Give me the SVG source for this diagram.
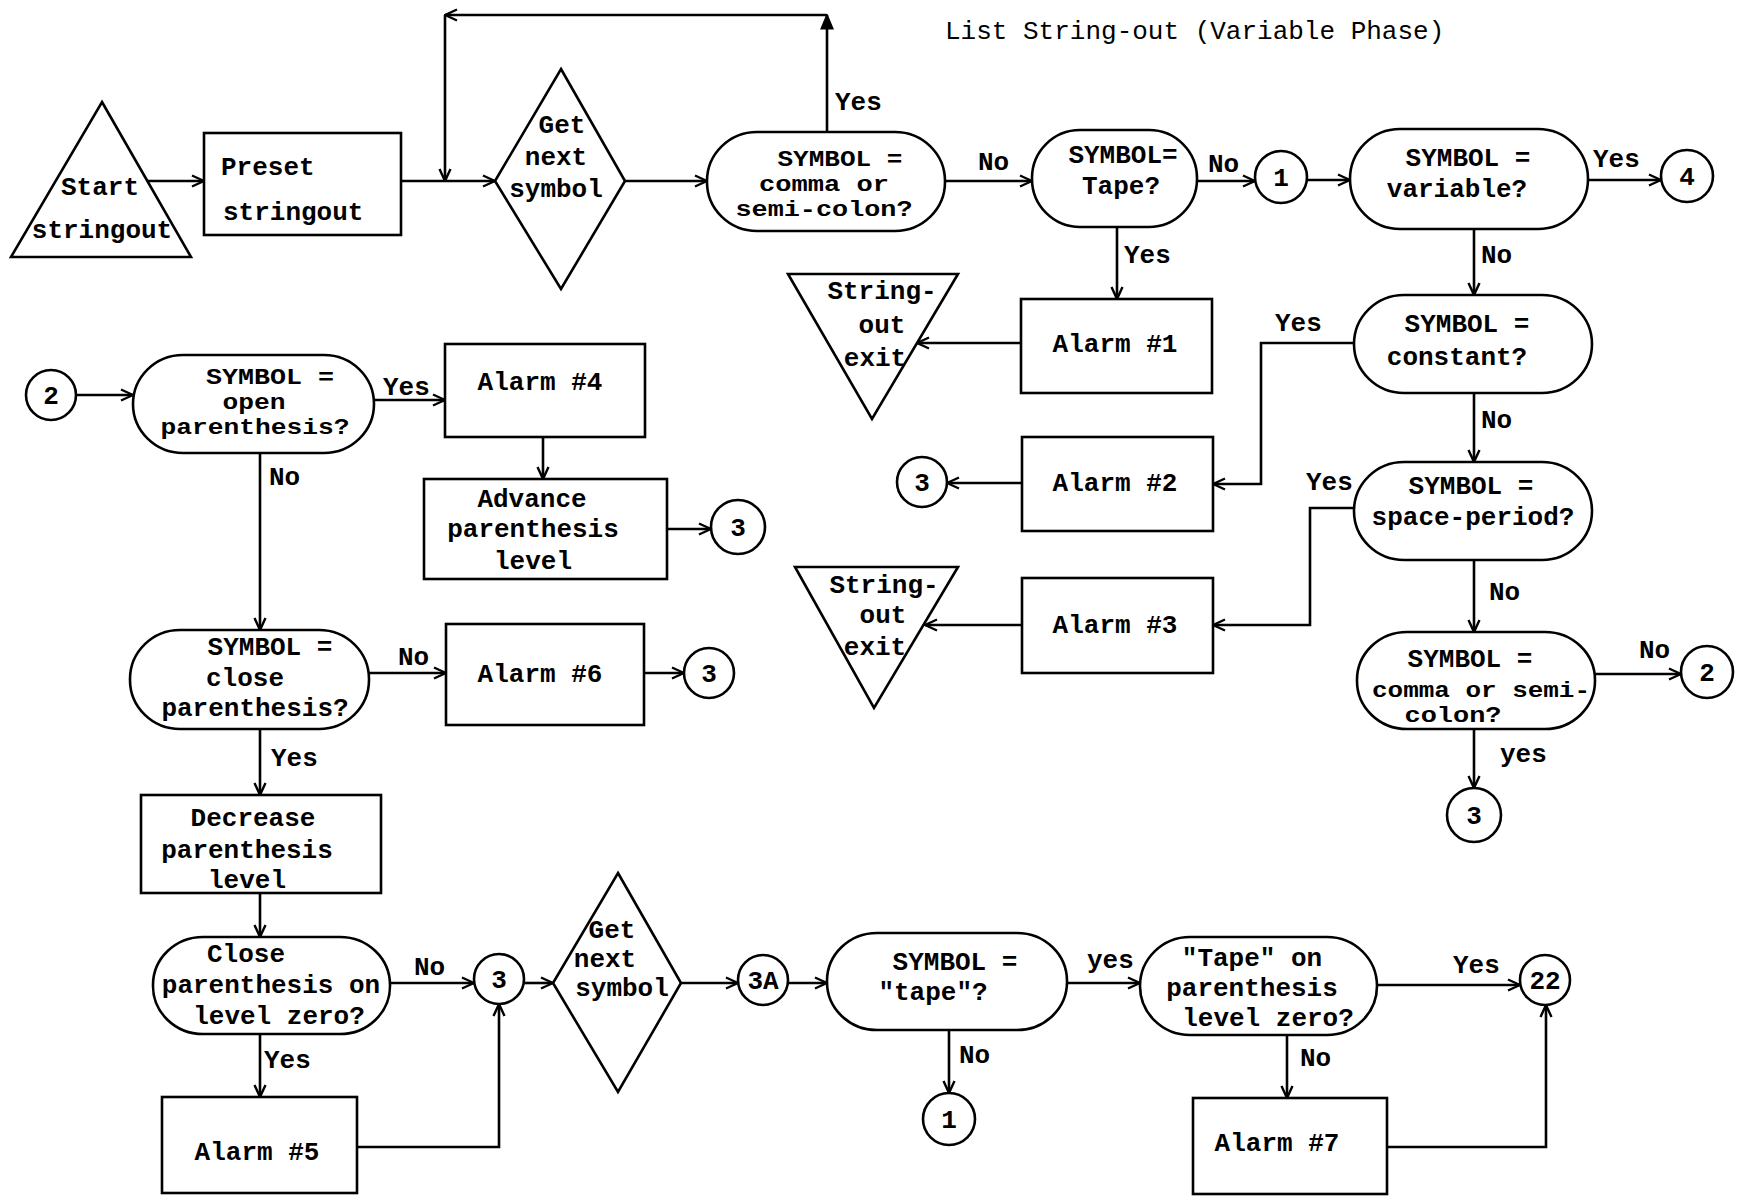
<svg xmlns="http://www.w3.org/2000/svg" width="1745" height="1196" viewBox="0 0 1745 1196">
<style>
  .bg{fill:#fff}
  .s{fill:#fff;stroke:#000;stroke-width:2.6}
  .c{fill:none;stroke:#000;stroke-width:2.6}
  text{font-family:"Liberation Mono","DejaVu Sans Mono",monospace;font-size:26px;font-weight:bold;fill:#000}
  .m{text-anchor:middle}
  .t{font-weight:normal}
  .sm{font-size:22px}
</style>
<defs>
  <marker id="a" viewBox="0 0 14 14" refX="13" refY="7" markerWidth="14" markerHeight="14" orient="auto" markerUnits="userSpaceOnUse">
    <path d="M1,1.5 L13,7 L1,12.5" fill="none" stroke="#000" stroke-width="2.4"/>
  </marker>
  <marker id="f" viewBox="0 0 14 14" refX="13" refY="7" markerWidth="16" markerHeight="16" orient="auto" markerUnits="userSpaceOnUse">
    <path d="M1,2 L13,7 L1,12 Z" fill="#000" stroke="#000" stroke-width="1.5"/>
  </marker>
</defs>
<rect class="bg" width="1745" height="1196"/>
<text class="t" x="945" y="39">List String-out (Variable Phase)</text>

<g id="connectors" class="c">
  <line x1="147" y1="181" x2="204" y2="181" marker-end="url(#a)"/>
  <line x1="401" y1="181" x2="495" y2="181" marker-end="url(#a)"/>
  <line x1="827" y1="132" x2="827" y2="15" marker-end="url(#f)"/>
  <line x1="827" y1="15" x2="445" y2="15" marker-end="url(#a)"/>
  <line x1="445" y1="15" x2="445" y2="181" marker-end="url(#a)"/>
  <line x1="625" y1="181" x2="707" y2="181" marker-end="url(#a)"/>
  <line x1="945" y1="181" x2="1032" y2="181" marker-end="url(#a)"/>
  <line x1="1197" y1="181" x2="1255" y2="181" marker-end="url(#a)"/>
  <line x1="1307" y1="180" x2="1350" y2="180" marker-end="url(#a)"/>
  <line x1="1588" y1="180" x2="1661" y2="180" marker-end="url(#a)"/>
  <line x1="1117" y1="227" x2="1117" y2="299" marker-end="url(#a)"/>
  <line x1="1474" y1="229" x2="1474" y2="295" marker-end="url(#a)"/>
  <line x1="1021" y1="343" x2="917" y2="343" marker-end="url(#a)"/>
  <polyline points="1354,343 1261,343 1261,484 1213,484" marker-end="url(#a)"/>
  <line x1="1022" y1="483" x2="947" y2="483" marker-end="url(#a)"/>
  <line x1="1474" y1="393" x2="1474" y2="462" marker-end="url(#a)"/>
  <polyline points="1354,508 1310,508 1310,625 1213,625" marker-end="url(#a)"/>
  <line x1="1022" y1="625" x2="925" y2="625" marker-end="url(#a)"/>
  <line x1="1474" y1="560" x2="1474" y2="632" marker-end="url(#a)"/>
  <line x1="1595" y1="674" x2="1681" y2="674" marker-end="url(#a)"/>
  <line x1="1474" y1="729" x2="1474" y2="788" marker-end="url(#a)"/>
  <line x1="77" y1="395" x2="133" y2="395" marker-end="url(#a)"/>
  <line x1="374" y1="400" x2="445" y2="400" marker-end="url(#a)"/>
  <line x1="543" y1="437" x2="543" y2="479" marker-end="url(#a)"/>
  <line x1="667" y1="529" x2="711" y2="529" marker-end="url(#a)"/>
  <line x1="260" y1="453" x2="260" y2="630" marker-end="url(#a)"/>
  <line x1="369" y1="673" x2="446" y2="673" marker-end="url(#a)"/>
  <line x1="642" y1="673" x2="684" y2="673" marker-end="url(#a)"/>
  <line x1="260" y1="729" x2="260" y2="795" marker-end="url(#a)"/>
  <line x1="260" y1="893" x2="260" y2="937" marker-end="url(#a)"/>
  <line x1="390" y1="983" x2="474" y2="983" marker-end="url(#a)"/>
  <line x1="524" y1="983" x2="553" y2="983" marker-end="url(#a)"/>
  <line x1="681" y1="983" x2="738" y2="983" marker-end="url(#a)"/>
  <line x1="788" y1="983" x2="827" y2="983" marker-end="url(#a)"/>
  <line x1="260" y1="1034" x2="260" y2="1097" marker-end="url(#a)"/>
  <polyline points="357,1147 499,1147 499,1004" marker-end="url(#a)"/>
  <line x1="1067" y1="983" x2="1140" y2="983" marker-end="url(#a)"/>
  <line x1="1377" y1="985" x2="1520" y2="985" marker-end="url(#a)"/>
  <line x1="949" y1="1030" x2="949" y2="1093" marker-end="url(#a)"/>
  <line x1="1287" y1="1035" x2="1287" y2="1098" marker-end="url(#a)"/>
  <polyline points="1387,1147 1546,1147 1546,1005" marker-end="url(#a)"/>
</g>

<g id="labels" class="t">
  <text x="835" y="110">Yes</text>
  <text x="978" y="170">No</text>
  <text x="1208" y="172">No</text>
  <text x="1593" y="167">Yes</text>
  <text x="1124" y="263">Yes</text>
  <text x="1481" y="263">No</text>
  <text x="1275" y="331">Yes</text>
  <text x="1481" y="428">No</text>
  <text x="1306" y="490">Yes</text>
  <text x="1489" y="600">No</text>
  <text x="1639" y="658">No</text>
  <text x="1500" y="762">yes</text>
  <text x="383" y="395">Yes</text>
  <text x="269" y="485">No</text>
  <text x="398" y="665">No</text>
  <text x="271" y="766">Yes</text>
  <text x="414" y="975">No</text>
  <text x="264" y="1068">Yes</text>
  <text x="1087" y="968">yes</text>
  <text x="1453" y="973">Yes</text>
  <text x="959" y="1063">No</text>
  <text x="1300" y="1066">No</text>
</g>

<g id="start"><polygon class="s" points="102,102 191,257 11,257"/><text class="m" x="100" y="195">Start</text><text class="m" x="102" y="238">stringout</text></g>
<g id="preset"><rect class="s" x="204" y="133" width="197" height="102"/><text x="221" y="175">Preset</text><text x="223" y="220">stringout</text></g>
<g id="getnext1"><polygon class="s" points="561,69 625,181 561,289 495,181"/><text class="m" x="562" y="133">Get</text><text class="m" x="556" y="165">next</text><text class="m" x="556" y="197">symbol</text></g>
<g id="comma1"><rect class="s" x="707" y="132" width="238" height="99" rx="50" ry="49"/><text class="m sm" x="840" y="166" textLength="125" lengthAdjust="spacingAndGlyphs">SYMBOL =</text><text class="m sm" x="824" y="191" textLength="130" lengthAdjust="spacingAndGlyphs">comma or</text><text class="m sm" x="824" y="216" textLength="177" lengthAdjust="spacingAndGlyphs">semi-colon?</text></g>
<g id="tape1"><rect class="s" x="1032" y="130" width="165" height="97" rx="48" ry="48"/><text class="m" x="1123" y="163">SYMBOL=</text><text class="m" x="1121" y="194">Tape?</text></g>
<g id="c1a"><circle class="s" cx="1281" cy="177" r="26"/><text class="m" x="1281" y="186">1</text></g>
<g id="variable"><rect class="s" x="1350" y="129" width="238" height="100" rx="50" ry="50"/><text class="m" x="1468" y="166">SYMBOL =</text><text class="m" x="1457" y="197">variable?</text></g>
<g id="c4"><circle class="s" cx="1687" cy="176" r="26"/><text class="m" x="1687" y="185">4</text></g>
<g id="alarm1"><rect class="s" x="1021" y="299" width="191" height="94"/><text class="m" x="1115" y="352">Alarm #1</text></g>
<g id="exit1"><polygon class="s" points="788,274 958,274 872,419"/><text class="m" x="882" y="299">String-</text><text class="m" x="882" y="333">out</text><text class="m" x="875" y="366">exit</text></g>
<g id="constant"><rect class="s" x="1354" y="295" width="238" height="98" rx="50" ry="49"/><text class="m" x="1467" y="332">SYMBOL =</text><text class="m" x="1457" y="365">constant?</text></g>
<g id="alarm2"><rect class="s" x="1022" y="437" width="191" height="94"/><text class="m" x="1115" y="491">Alarm #2</text></g>
<g id="c3a"><circle class="s" cx="922" cy="482" r="25"/><text class="m" x="922" y="491">3</text></g>
<g id="spaceperiod"><rect class="s" x="1354" y="462" width="238" height="98" rx="50" ry="49"/><text class="m" x="1471" y="494">SYMBOL =</text><text class="m" x="1473" y="525">space-period?</text></g>
<g id="alarm3"><rect class="s" x="1022" y="578" width="191" height="95"/><text class="m" x="1115" y="633">Alarm #3</text></g>
<g id="exit2"><polygon class="s" points="795,567 958,567 874,708"/><text class="m" x="884" y="593">String-</text><text class="m" x="883" y="623">out</text><text class="m" x="875" y="655">exit</text></g>
<g id="comma2"><rect class="s" x="1357" y="632" width="238" height="97" rx="50" ry="48"/><text class="m" x="1470" y="667">SYMBOL =</text><text class="m sm" x="1481" y="697" textLength="218" lengthAdjust="spacingAndGlyphs">comma or semi-</text><text class="m sm" x="1453" y="722" textLength="97" lengthAdjust="spacingAndGlyphs">colon?</text></g>
<g id="c2b"><circle class="s" cx="1707" cy="672" r="26"/><text class="m" x="1707" y="681">2</text></g>
<g id="c3b"><circle class="s" cx="1474" cy="815" r="27"/><text class="m" x="1474" y="824">3</text></g>
<g id="c2a"><circle class="s" cx="51" cy="395" r="25"/><text class="m" x="51" y="404">2</text></g>
<g id="openparen"><rect class="s" x="133" y="355" width="241" height="98" rx="50" ry="49"/><text class="m sm" x="270" y="384" textLength="128" lengthAdjust="spacingAndGlyphs">SYMBOL =</text><text class="m sm" x="254" y="409" textLength="63" lengthAdjust="spacingAndGlyphs">open</text><text class="m sm" x="255" y="434" textLength="189" lengthAdjust="spacingAndGlyphs">parenthesis?</text></g>
<g id="alarm4"><rect class="s" x="445" y="344" width="200" height="93"/><text class="m" x="540" y="390">Alarm #4</text></g>
<g id="advance"><rect class="s" x="424" y="479" width="243" height="100"/><text class="m" x="532" y="507">Advance</text><text class="m" x="533" y="537">parenthesis</text><text class="m" x="533" y="569">level</text></g>
<g id="c3c"><circle class="s" cx="738" cy="527" r="27"/><text class="m" x="738" y="536">3</text></g>
<g id="closeparen"><rect class="s" x="130" y="630" width="239" height="99" rx="50" ry="49"/><text class="m" x="270" y="655">SYMBOL =</text><text class="m" x="245" y="686">close</text><text class="m" x="255" y="716">parenthesis?</text></g>
<g id="alarm6"><rect class="s" x="446" y="624" width="198" height="101"/><text class="m" x="540" y="682">Alarm #6</text></g>
<g id="c3d"><circle class="s" cx="709" cy="673" r="25"/><text class="m" x="709" y="682">3</text></g>
<g id="decrease"><rect class="s" x="141" y="795" width="240" height="98"/><text class="m" x="253" y="826">Decrease</text><text class="m" x="247" y="858">parenthesis</text><text class="m" x="247" y="888">level</text></g>
<g id="closezero"><rect class="s" x="153" y="937" width="237" height="97" rx="50" ry="48"/><text class="m" x="246" y="962">Close</text><text class="m" x="271" y="993">parenthesis on</text><text class="m" x="279" y="1024">level zero?</text></g>
<g id="c3e"><circle class="s" cx="499" cy="979" r="25"/><text class="m" x="499" y="988">3</text></g>
<g id="getnext2"><polygon class="s" points="618,873 681,983 618,1092 553,983"/><text class="m" x="612" y="938">Get</text><text class="m" x="605" y="967">next</text><text class="m" x="622" y="996">symbol</text></g>
<g id="alarm5"><rect class="s" x="162" y="1097" width="195" height="96"/><text class="m" x="257" y="1160">Alarm #5</text></g>
<g id="c3A"><circle class="s" cx="763" cy="980" r="25"/><text class="m" x="763" y="989">3A</text></g>
<g id="tape2"><rect class="s" x="827" y="933" width="240" height="97" rx="50" ry="48"/><text class="m" x="955" y="970">SYMBOL =</text><text class="m" x="933" y="1000">"tape"?</text></g>
<g id="tapelevel"><rect class="s" x="1140" y="937" width="237" height="98" rx="50" ry="49"/><text class="m" x="1252" y="966">"Tape" on</text><text class="m" x="1252" y="996">parenthesis</text><text class="m" x="1268" y="1026">level zero?</text></g>
<g id="c22"><circle class="s" cx="1545" cy="980" r="25"/><text class="m" x="1545" y="989">22</text></g>
<g id="c1b"><circle class="s" cx="949" cy="1119" r="26"/><text class="m" x="949" y="1128">1</text></g>
<g id="alarm7"><rect class="s" x="1193" y="1098" width="194" height="96"/><text class="m" x="1277" y="1151">Alarm #7</text></g>
</svg>
